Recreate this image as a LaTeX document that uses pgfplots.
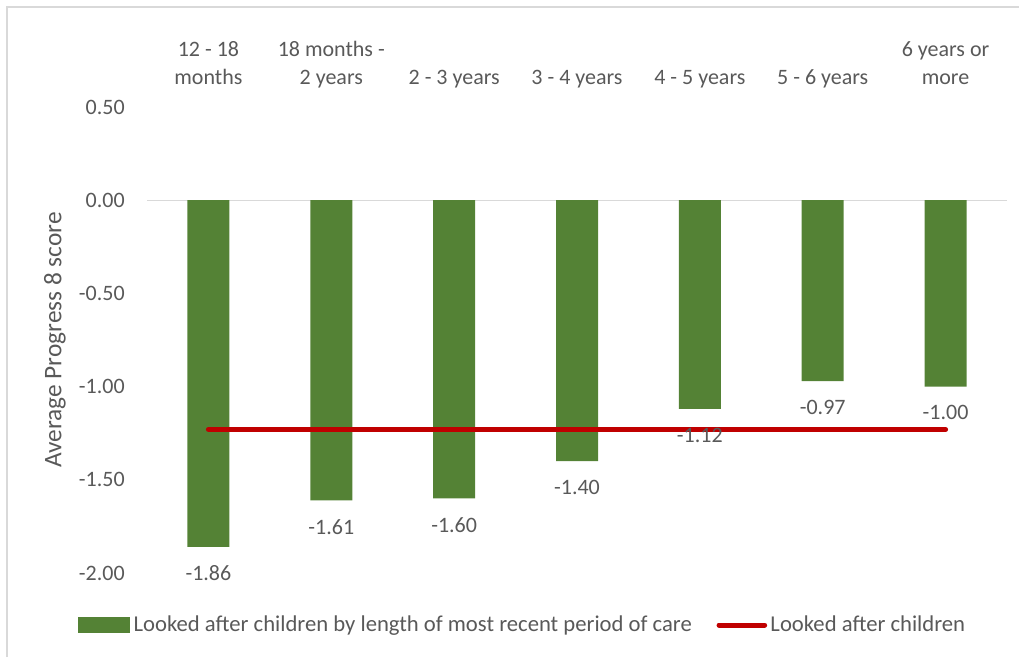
\documentclass[border=0pt]{standalone}
\usepackage{fontspec}
\setmainfont{Carlito}
\usepackage{pgfplots}
\pgfplotsset{compat=1.18}
\definecolor{bargreen}{HTML}{548235}
\definecolor{linered}{HTML}{C00000}
\definecolor{txt}{HTML}{595959}
\definecolor{gridgray}{HTML}{D9D9D9}
\begin{document}
\fontsize{16.5}{21}\selectfont
\begin{tikzpicture}
\useasboundingbox (0,0) rectangle (764.25pt,492.75pt);
% chart frame (only left and top edges fall inside the crop)
\draw[gridgray, line width=1.5pt] (5.25pt,0) -- (5.25pt,487.5pt) -- (764.25pt,487.5pt);
\begin{axis}[
    at={(110.25pt,63pt)}, anchor=south west,
    scale only axis, width=645pt, height=349.5pt,
    xmin=-0.5, xmax=6.5, ymin=-2, ymax=0.5,
    axis line style={draw=none},
    tick style={draw=none},
    xtick={0,...,6},
    xticklabels={{12 - 18\\months\strut}, {18 months -\\2 years\strut}, {2 - 3 years\strut},
        {3 - 4 years\strut}, {4 - 5 years\strut}, {5 - 6 years\strut}, {6 years or\\more\strut}},
    xticklabel pos=right,
    xticklabel style={align=center, anchor=south, inner sep=0pt, yshift=10pt, text=txt},
    ytick={-2,-1.5,-1,-0.5,0,0.5},
    yticklabels={-2.00,-1.50,-1.00,-0.50,0.00,0.50},
    yticklabel style={anchor=east, inner sep=0pt, xshift=-16.5pt, text=txt},
    extra y ticks={0},
    extra y tick labels={},
    extra y tick style={grid=major, major grid style={gridgray, line width=1pt}},
    ylabel={Average Progress 8 score},
    ylabel style={at={(axis description cs:0,0.5)}, yshift=69pt, anchor=center, text=txt,
        font=\fontsize{19}{23}\selectfont},
    legend columns=2,
    legend style={at={(axis description cs:-0.0802,-0.1116)}, anchor=west,
        draw=none, fill=none, inner sep=0pt, text=txt,
        font=\fontsize{17}{21}\selectfont,
        nodes={inner sep=2.5pt},
        /tikz/every even column/.append style={column sep=16pt}},
    legend cell align=left,
]
\addplot[ybar, bar width=31.5pt, fill=bargreen, draw=none,
    nodes near coords, point meta=explicit symbolic,
    nodes near coords style={anchor=north, inner sep=0pt, yshift=-14pt, text=txt},
    legend image code/.code={\fill[bargreen] (0pt,-6pt) rectangle (39pt,6pt);}]
    coordinates {
    (0,-1.86)[-1.86] (1,-1.61)[-1.61] (2,-1.60)[-1.60] (3,-1.40)[-1.40]
    (4,-1.12)[-1.12] (5,-0.97)[-0.97] (6,-1.00)[-1.00]
    };
\addlegendentry{Looked after children by length of most recent period of care}
\addplot[linered, line width=3.75pt, line cap=round, mark=none,
    legend image code/.code={\draw[linered, line width=3.75pt, line cap=round] (1.9pt,0) -- (36.1pt,0);}]
    coordinates {
    (0,-1.23) (1,-1.23) (2,-1.23) (3,-1.23) (4,-1.23) (5,-1.23) (6,-1.23)
    };
\addlegendentry{Looked after children}
\end{axis}
\end{tikzpicture}
\end{document}
